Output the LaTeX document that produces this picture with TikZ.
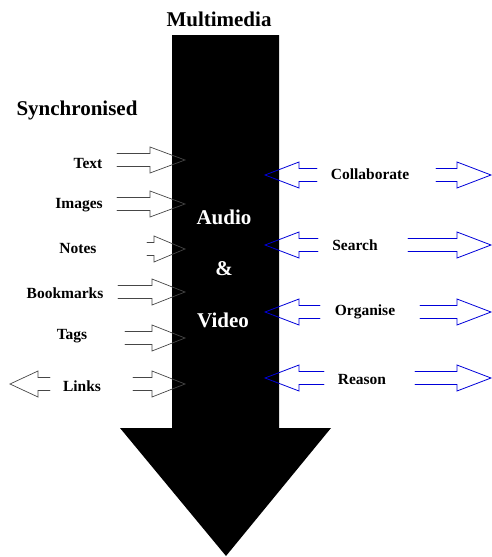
\documentclass[tikz,border=0pt]{standalone}
\usepackage{fontspec}
\setmainfont{Liberation Serif}
\tikzset{
  lbl/.style={font=\fontsize{15.5}{18}\selectfont\bfseries,inner sep=0pt},
  head/.style={font=\fontsize{21}{24}\selectfont\bfseries,inner sep=0pt},
  harrow/.style={draw=gray!55!black,line width=0.7pt,line join=miter},
  barrow/.style={draw=blue!85!black,line width=0.8pt,line join=miter},
}
% hollow arrow: [style] shaft end x, head base x, tip x, y
\newcommand{\hollowarrow}[5][harrow]{%
  \draw[#1] (#2,#5-6.5) -- (#3,#5-6.5) -- (#3,#5-13) -- (#4,#5)
    -- (#3,#5+13) -- (#3,#5+6.5) -- (#2,#5+6.5);}
\begin{document}
\begin{tikzpicture}[x=1pt,y=-1pt,line join=round,line cap=round]
  \useasboundingbox (0,0) rectangle (492,557);
  % big arrow
  \fill[black] (172,35) -- (279,35) -- (279,428) -- (331,428) -- (226,556)
    -- (120,428) -- (172,428) -- cycle;
  \node[head] (multimedia) at (219,19) {Multimedia};
  \node[head] (sync) at (77,110) {Synchronised};
  \node[head,text=white] (audio) at (224,217) {Audio};
  \node[head,text=white] (and) at (224,269) {\&};
  \node[head,text=white] (video) at (223,320) {Video};
  % left side
  \node[lbl] (text) at (88,163) {Text};
  \node[lbl] (images) at (79,205) {Images};
  \node[lbl] (notes) at (78,248) {Notes};
  \node[lbl] (bookmarks) at (65,293) {Bookmarks};
  \node[lbl] (tags) at (72,336) {Tags};
  \node[lbl] (links) at (82,386) {Links};
  \hollowarrow{117}{150}{185}{160}
  \hollowarrow{117}{150}{185}{204}
  \hollowarrow{147}{154}{185}{249}
  \hollowarrow{118}{152}{185}{292}
  \hollowarrow{125}{152}{185}{338}
  \hollowarrow{133}{152}{185}{384}
  \hollowarrow{50}{38}{10}{384}
  % right side
  \node[lbl] (collab) at (370,174) {Collaborate};
  \node[lbl] (search) at (355,245) {Search};
  \node[lbl] (organise) at (365,312) {Organise};
  \node[lbl] (reason) at (362,379) {Reason};
  \hollowarrow[barrow]{317}{299}{265}{175}
  \hollowarrow[barrow]{318}{299}{265}{245}
  \hollowarrow[barrow]{320}{299}{265}{312}
  \hollowarrow[barrow]{324}{299}{265}{378}
  \hollowarrow[barrow]{436}{457}{491}{175}
  \hollowarrow[barrow]{408}{457}{491}{245}
  \hollowarrow[barrow]{420}{457}{491}{312}
  \hollowarrow[barrow]{415}{457}{491}{378}
\end{tikzpicture}
\end{document}
